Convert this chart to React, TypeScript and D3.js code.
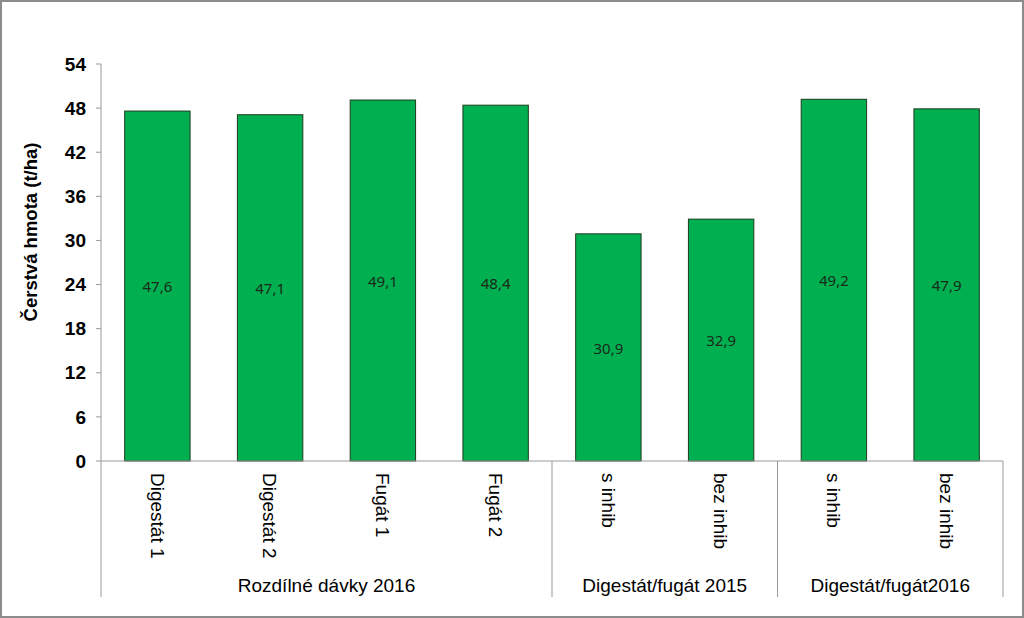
import React from "react";
import * as d3 from "d3";

const categories = ["Digestát 1", "Digestát 2", "Fugát 1", "Fugát 2", "s inhib", "bez inhib", "s inhib", "bez inhib"];
const values = [47.6, 47.1, 49.1, 48.4, 30.9, 32.9, 49.2, 47.9];
const valueLabels = ["47,6", "47,1", "49,1", "48,4", "30,9", "32,9", "49,2", "47,9"];
const groups = ["Rozdílné dávky 2016", "Digestát/fugát 2015", "Digestát/fugát2016"];
const groupSizes = [4, 2, 2];
const yTicks = [0, 6, 12, 18, 24, 30, 36, 42, 48, 54];
const yTitle = "Čerstvá hmota (t/ha)";

export default function App() {
  const W = 1024, H = 618;
  const left = 101, right = 1003, top = 64, bottom = 461;
  const x = d3.scaleBand<number>().domain(d3.range(categories.length)).range([left, right]).paddingInner(0.42).paddingOuter(0.21);
  const step = x.step();
  const y = d3.scaleLinear().domain([0, 54]).range([bottom, top]);
  const font = "'Liberation Sans', Arial, sans-serif";

  const bounds: number[] = [left];
  let acc = 0;
  groupSizes.forEach((n) => { acc += n; bounds.push(left + acc * (right - left) / categories.length); });

  return (
    <svg width={W} height={H} style={{ position: "absolute", left: 0, top: 0, background: "#fff" }}>
      <rect x={1} y={1} width={W - 2} height={H - 2} fill="#fff" stroke="#8c8c8c" strokeWidth={2} />
      <line x1={left} x2={left} y1={top} y2={bottom} stroke="#999" strokeWidth={1} />
      {yTicks.map((t) => (
        <g key={t}>
          <line x1={left - 5} x2={left} y1={y(t)} y2={y(t)} stroke="#999" />
          <text x={left - 15} y={y(t)} dy="0.35em" textAnchor="end" fontFamily={font} fontWeight="bold" fontSize={19} fill="#000">{t}</text>
        </g>
      ))}
      <text transform={`translate(37,232) rotate(-90)`} textAnchor="middle" fontFamily={font} fontWeight="bold" fontSize={18.5} fill="#000">{yTitle}</text>
      {values.map((v, i) => (
        <g key={i}>
          <rect x={x(i)} y={y(v)} width={x.bandwidth()} height={bottom - y(v)} fill="#00B050" stroke="#1e3a1e" strokeWidth={1} />
          <text x={(x(i) as number) + x.bandwidth() / 2} y={(y(v) + bottom) / 2 + 1} dy="0.35em" textAnchor="middle" fontFamily="'Noto Sans', sans-serif" fontSize={15} fill="#1a2a1a">{valueLabels[i]}</text>
        </g>
      ))}
      <line x1={left} x2={right} y1={bottom} y2={bottom} stroke="#999" />
      {bounds.map((b, i) => (
        <line key={i} x1={b} x2={b} y1={bottom} y2={597} stroke="#999" />
      ))}
      {categories.map((c, i) => (
        <text key={i} transform={`translate(${left + step * (i + 0.5)},${bottom + 12}) rotate(90)`} dy="0.35em" textAnchor="start" fontFamily={font} fontSize={19} fill="#000">{c}</text>
      ))}
      {groups.map((g, i) => (
        <text key={i} x={(bounds[i] + bounds[i + 1]) / 2} y={592} textAnchor="middle" fontFamily={font} fontSize={19} fill="#000">{g}</text>
      ))}
    </svg>
  );
}
